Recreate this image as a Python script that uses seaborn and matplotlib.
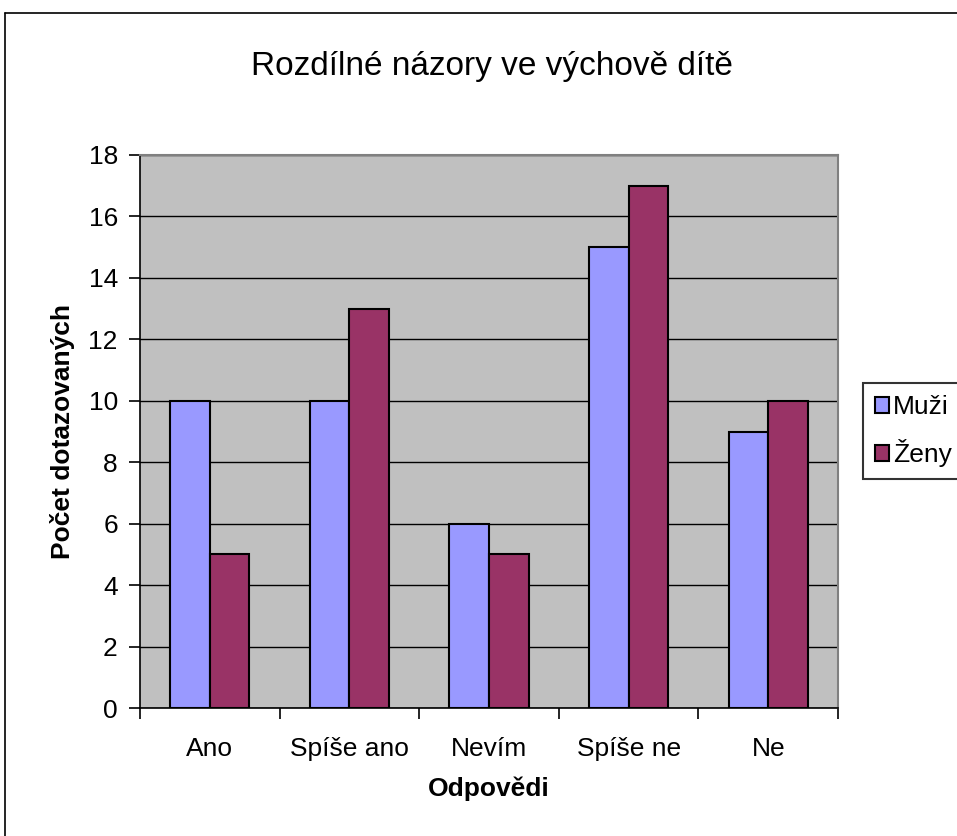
import numpy as np
import pandas as pd
import matplotlib
matplotlib.use('Agg')
import matplotlib.pyplot as plt
import seaborn as sns
from matplotlib.lines import Line2D
from matplotlib.patches import Patch

categories = ['Ano', 'Spíše ano', 'Nevím', 'Spíše ne', 'Ne']
muzi = [10, 10, 6, 15, 9]
zeny = [5, 13, 5, 17, 10]
series = ['Muži', 'Ženy']
colors = {'Muži': '#9999FF', 'Ženy': '#993366'}

df = pd.DataFrame({
    'Odpovědi': categories * 2,
    'Počet': muzi + zeny,
    'Pohlaví': [series[0]] * len(categories) + [series[1]] * len(categories),
})

sns.set_style('white')
plt.rcParams['font.family'] = ['Liberation Sans', 'DejaVu Sans']
plt.rcParams['text.color'] = 'black'
plt.rcParams['axes.labelcolor'] = 'black'
plt.rcParams['xtick.color'] = 'black'
plt.rcParams['ytick.color'] = 'black'

fig = plt.figure(figsize=(9.57, 8.36), dpi=100)
ax = fig.add_axes([140 / 957, 1 - 708 / 836, 698 / 957, 553 / 836])
ax.set_facecolor('#C0C0C0')

sns.barplot(data=df, x='Odpovědi', y='Počet', hue='Pohlaví', order=categories,
            hue_order=series, palette=colors, saturation=1, width=0.566, gap=0,
            edgecolor='black', linewidth=1.5, ax=ax, legend=False, zorder=3)

ax.set_ylim(0, 18)
ax.set_xlim(-0.5, len(categories) - 0.5)
ax.set_yticks(range(0, 19, 2))
ax.yaxis.grid(True, color='black', linewidth=1, zorder=1)
ax.set_axisbelow(True)
ax.tick_params(axis='y', which='major', direction='out', length=8, width=1.2,
               labelsize=19, pad=8, left=True)
ax.tick_params(axis='x', which='major', length=0, labelsize=19, pad=21)
ax.set_xticks(np.arange(-0.5, len(categories)), minor=True)
ax.tick_params(axis='x', which='minor', direction='out', length=8, width=1.2,
               bottom=True)

for side in ['left', 'bottom']:
    ax.spines[side].set_color('black')
    ax.spines[side].set_linewidth(1.2)
for side in ['top', 'right']:
    ax.spines[side].set_color('#808080')
    ax.spines[side].set_linewidth(1.5)

ax.set_xlabel('Odpovědi', fontsize=19, fontweight='bold', labelpad=11)
ax.set_ylabel('Počet dotazovaných', fontsize=19, fontweight='bold', labelpad=10)
fig.text(492 / 957, 1 - 66 / 836, 'Rozdílné názory ve výchově dítě',
         fontsize=24, ha='center', va='center')

handles = [Patch(facecolor=colors[s], edgecolor='black', linewidth=1.5, label=s)
           for s in series]
leg = fig.legend(handles=handles, loc='center left',
                 bbox_to_anchor=(863 / 957, 1 - 431 / 836), fontsize=19,
                 frameon=True, fancybox=False, edgecolor='black',
                 handlelength=0.55, handleheight=0.55, handletextpad=0.15,
                 borderpad=0.45, labelspacing=0.75, borderaxespad=0)
leg.get_frame().set_linewidth(1.5)

fig.add_artist(Line2D([5 / 957, 1], [1 - 13 / 836, 1 - 13 / 836],
                      color='black', linewidth=1.2))
fig.add_artist(Line2D([5 / 957, 5 / 957], [0, 1 - 13 / 836],
                      color='black', linewidth=1.2))

fig.savefig('out.png', dpi=100, facecolor='white')
